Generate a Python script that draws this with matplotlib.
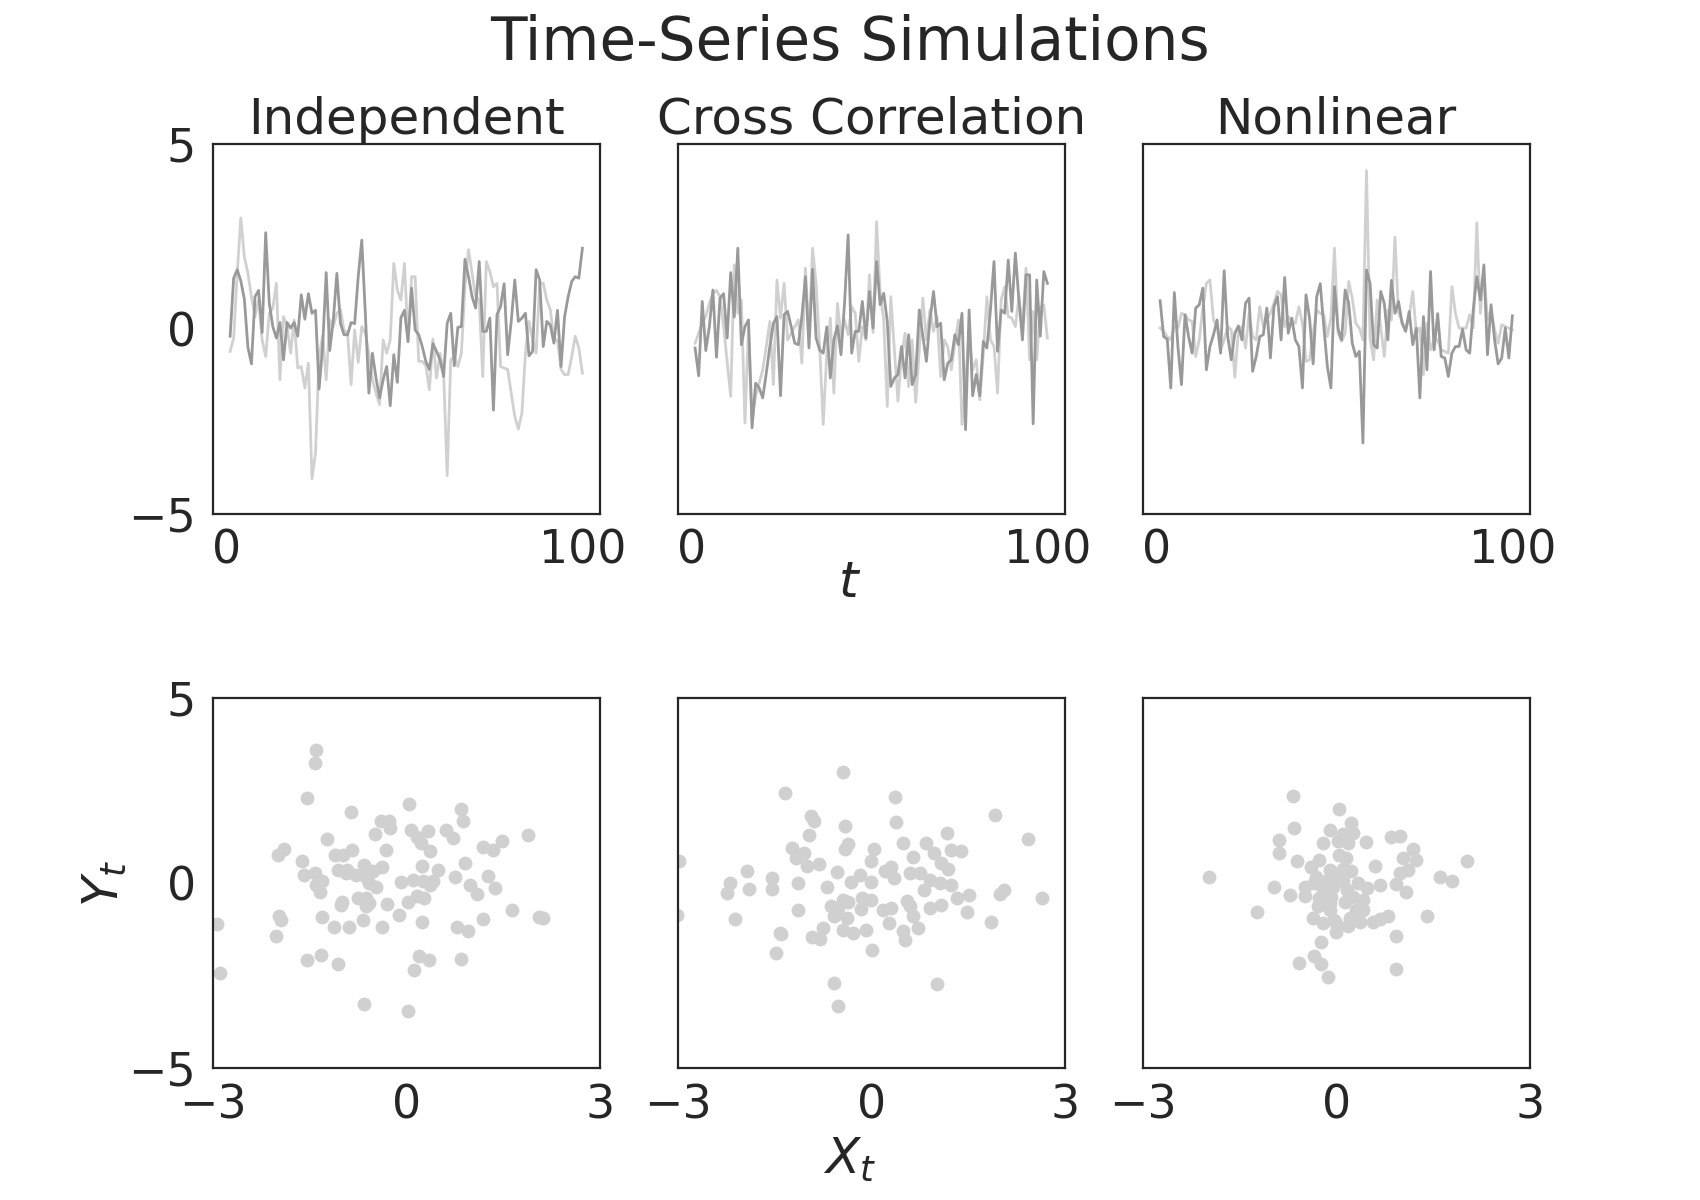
import matplotlib
matplotlib.use("Agg")
import matplotlib.pyplot as plt
import numpy as np

# ---- data ----
panel_titles = ["Independent", "Cross Correlation", "Nonlinear"]
t = np.arange(1, 101)

indep_dark = [
    -0.2, 1.37, 1.6, 1.3, 0.8, -0.5, -0.95, 0.87, 1.04, -0.1,
    2.6, 0.7, 0.06, -0.25, 0.17, -0.84, 0.17, 0.02, 0.17, -0.2,
    0.92, 0.26, 0.95, 0.42, 0.5, -1.63, -0.48, 1.52, -0.59, 0.24,
    1.5, 0.15, -0.16, -0.16, 0.17, 0.14, 1.41, 2.4, 0.42, -1.74,
    -0.66, -1.33, -1.87, -1.38, -1.02, -2.08, -0.7, -1.45, 0.3, 0.5,
    -0.35, 1.1, -0.03, -0.16, -0.48, -0.88, -1.1, -0.4, -0.61, -0.84,
    -1.29, 0.15, 0.42, -1.0, 0.04, 0.06, 1.88, 1.41, 0.87, 0.56,
    1.82, -0.07, -0.07, 0.29, -2.2, 0.38, 0.6, 1.22, -0.7, 0.2,
    1.32, 0.2, 0.29, 0.42, -0.73, -0.61, 1.6, 1.32, -0.48, 0.2,
    0.1, -0.39, 0.5, -1.02, 0.33, 0.87, 1.28, 1.41, 1.37, 2.18,
]
indep_light = [
    -0.61, -0.25, 1.5, 3.0, 1.95, 1.5, 0.87, 0.33, 0.8, -0.3,
    -0.75, 0.42, 0.56, 1.23, -1.38, 0.33, 0.1, -0.66, 0.24, -1.06,
    -1.02, -1.6, -0.93, -4.06, -3.36, -0.75, -0.2, -1.38, 0.24, 0.06,
    0.42, 0.51, -0.03, -0.12, -1.51, -0.03, -0.91, 0.06, -0.12, -0.66,
    -1.38, -1.74, -2.05, -0.3, -0.66, -0.3, 1.77, 1.05, 0.78, 1.77,
    -0.3, 1.41, 1.41, -0.88, -0.88, -1.0, -1.65, -0.28, -1.33, -0.66,
    -1.2, -3.97, -0.84, -0.75, -1.02, -0.66, 1.14, 2.14, 1.5, 0.87,
    0.78, -1.29, 1.82, 1.55, 1.14, 1.23, -1.02, -1.06, -1.1, -1.74,
    -2.37, -2.71, -2.28, -0.66, 0.2, -0.3, -0.66, 1.23, 1.23, 0.78,
    0.51, -0.3, -0.3, -1.1, -1.24, -1.24, -0.75, -0.2, -0.52, -1.2,
]
cross_dark = [
    -0.52, -1.27, 0.74, -0.59, 0.06, 1.05, -0.77, 0.83, 0.95, -0.25,
    1.52, 0.32, 2.18, -0.43, 0.06, 0.24, -2.68, -1.47, -1.6, -1.87,
    -1.2, -0.48, 0.15, 0.33, -1.81, 0.38, 0.47, 0.06, -0.39, -0.43,
    0.33, 1.41, -0.52, 1.61, -0.25, -0.57, -0.66, 0.05, -1.33, -0.3,
    0.08, -0.7, 0.69, 2.54, -0.66, -0.07, -0.07, 0.74, -0.25, 1.01,
    0.02, 1.82, 0.65, 0.96, 0.2, -1.56, -1.33, -1.24, -0.48, -1.33,
    -0.16, -1.51, -1.24, 0.51, -0.2, -0.88, 0.24, 1.01, 0.06, 0.15,
    -1.38, -0.93, -0.84, -0.16, -0.43, 0.42, -2.73, 0.51, -1.81, -1.24,
    -1.81, -0.34, -0.52, 0.51, 1.82, -0.61, 0.51, 0.42, 1.86, 0.47,
    2.05, 0.78, -0.3, 1.46, 1.46, -2.57, 1.32, -0.2, 1.55, 1.23,
]
cross_light = [
    -0.39, -0.12, 0.15, 0.33, 0.69, 0.96, 1.04, 0.87, 0.06, -0.88,
    -1.83, 1.73, 0.42, 0.78, -2.55, 0.02, -2.46, -1.83, -1.47, -1.11,
    -0.48, 0.2, -1.51, 1.32, 0.29, 1.23, -0.3, -0.12, 0.06, 0.24,
    -0.93, 1.64, -0.21, 2.18, 1.23, -0.48, -2.59, -0.66, 0.29, -1.74,
    0.69, -0.21, 0.24, -0.16, 0.6, 0.42, -0.88, 0.06, -0.3, 1.46,
    -0.1, 2.9, 0.96, 0.24, -2.1, 0.87, -0.57, -1.96, -0.75, -0.12,
    -1.56, -0.3, -1.99, -0.57, 0.83, -0.3, 0.51, -0.07, 0.33, -1.29,
    -0.3, -0.48, -1.11, -0.39, 0.24, -2.59, -1.38, -0.21, -1.11, -0.84,
    -1.92, -0.66, 0.87, -0.3, -0.48, -1.74, 0.78, 1.14, 0.33, 0.29,
    0.06, 0.87, 0.06, 1.64, -0.84, 0.47, -0.84, 0.6, 0.65, -0.25,
]
nonlin_dark = [
    0.76, -0.21, -0.28, -1.6, 0.98, -0.48, -1.51, 0.38, -0.21, -0.66,
    0.56, 0.65, 1.1, -1.11, -0.48, -0.16, 0.24, -0.66, 1.57, -0.21,
    -0.84, -0.12, 0.08, -0.3, 0.69, 0.83, -1.15, -0.75, -0.21, -0.16,
    0.56, -0.79, 0.6, 0.87, -0.3, 1.39, -0.12, 0.29, -0.3, -0.48,
    -1.6, 0.92, 0.29, -0.95, 0.87, 1.22, 0.06, -1.02, -1.6, 1.14,
    0.0, -0.3, 1.05, 0.69, -0.39, -0.75, -0.61, -3.09, 1.59, 1.23,
    -0.43, -0.52, 1.01, 0.69, -0.3, 1.31, 0.42, 0.74, 0.15, -0.07,
    0.47, -0.43, 0.02, -1.87, 0.33, -1.11, 1.55, -0.57, 0.41, -0.75,
    -0.79, -1.29, -0.66, -0.48, -0.48, -0.01, -0.57, -0.66, 0.51, 1.41,
    0.78, 1.73, -0.7, 0.65, -0.3, -0.95, -0.79, 0.02, -0.79, 0.35,
]
nonlin_light = [
    0.02, -0.07, -0.21, -0.3, 0.06, 0.02, 0.42, 0.38, 0.24, 0.2,
    -0.75, -0.3, 0.56, 1.23, 1.32, 0.24, 0.06, -0.57, -0.3, 0.06,
    -0.03, -1.31, -0.03, 0.06, -0.52, 0.42, -0.21, -0.3, 0.6, 0.06,
    0.24, 0.42, 0.69, 1.01, 0.92, 0.06, 0.33, 0.2, 0.15, 0.6,
    0.15, -0.88, -0.84, -0.12, 0.51, 0.42, 0.38, -0.21, 0.29, 2.18,
    -0.12, -0.34, -0.12, 1.28, 0.83, 0.15, 0.02, -0.3, 4.28, -0.25,
    -0.84, 0.78, 0.06, -0.75, 0.51, 0.24, 2.48, 0.42, 0.2, -0.03,
    0.33, 1.01, -0.12, 0.02, -1.24, 0.15, -0.57, -0.3, -0.3, -0.57,
    -0.61, -0.66, 1.14, 0.42, 0.02, 0.02, 0.02, 0.38, 0.02, 2.87,
    0.42, 1.52, 0.24, 0.51, -0.03, -0.39, 0.11, 0.06, 0.02, -0.03,
]

indep_x = [
    -1.39, -1.42, -1.53, 0.04, 0.84, -0.85, 0.88, -0.39, -0.27, -0.25,
    -0.48, 0.08, 0.33, 0.62, 0.73, 1.88, -1.22, 0.16, 0.23, 1.48,
    -1.90, -1.99, -0.84, -0.31, 1.19, 1.34, 0.36, -1.10, -0.98, -1.62,
    0.91, 0.25, -0.37, -0.65, -1.06, -0.91, -0.52, 0.49, -1.58, -1.42,
    0.75, 1.27, -0.93, -0.78, -0.62, -1.30, -0.08, 0.10, 0.26, 0.41,
    0.36, -1.40, -0.57, -0.47, 0.99, 1.37, -1.33, 1.09, -0.75, -0.62,
    -0.57, 0.16, 0.28, 0.03, -1.00, -1.01, -0.30, -0.62, -1.97, -1.94,
    -1.31, -0.11, 0.25, -0.67, 1.19, 1.63, 2.05, 2.12, -2.93, -1.12,
    -0.88, -0.38, 0.78, 0.95, -2.01, -1.54, -1.32, -1.06, 0.19, 0.35,
    0.12, 0.84, -2.88, -0.65, 0.03,
]
indep_y = [
    3.61, 3.25, 2.30, 2.15, 2.01, 1.92, 1.67, 1.67, 1.69, 1.49,
    1.34, 1.45, 1.42, 1.43, 1.22, 1.31, 1.19, 1.26, 1.08, 1.15,
    0.92, 0.75, 0.90, 0.90, 0.99, 0.89, 0.86, 0.77, 0.77, 0.59,
    0.54, 0.47, 0.45, 0.48, 0.36, 0.36, 0.32, 0.36, 0.23, 0.27,
    0.16, 0.20, 0.27, 0.23, 0.18, 0.07, 0.02, 0.09, 0.05, 0.07,
    -0.05, -0.05, 0.00, -0.11, -0.05, -0.14, -0.23, -0.29, -0.41, -0.41,
    -0.54, -0.34, -0.41, -0.50, -0.50, -0.59, -0.57, -0.61, -0.90, -0.99,
    -0.92, -0.86, -1.06, -0.99, -0.98, -0.72, -0.92, -0.93, -1.11, -1.19,
    -1.19, -1.19, -1.19, -1.28, -1.43, -2.08, -1.94, -2.19, -1.96, -2.08,
    -2.35, -2.05, -2.44, -3.27, -3.46,
]
cross_x = [
    -0.44, -1.34, 0.36, 1.92, -0.94, -0.89, 0.39, -0.40, 2.42, -0.97,
    1.17, 0.49, 0.85, -0.36, -0.41, 0.04, -1.23, -1.14, -1.04, -1.17,
    0.97, 1.24, 1.39, 0.65, 0.00, -0.99, -0.81, 1.08, -2.98, 0.31,
    -1.93, -0.53, 0.21, 0.60, 0.75, 1.19, 0.35, -2.19, -1.53, -0.18,
    -0.31, 0.00, -1.14, 0.91, 1.06, 1.24, -2.23, -1.90, -1.53, -0.69,
    0.82, 1.32, 1.51, 2.06, 1.99, 2.64, -0.15, 0.00, -0.44, -0.36,
    0.56, -0.62, -0.52, -0.16, 0.18, 0.30, 0.60, 0.91, 1.08, -1.13,
    1.49, -3.01, -2.11, 0.65, -0.57, -0.37, 0.27, -1.42, -1.40, -0.91,
    -0.74, -0.79, -0.43, -0.28, -0.08, 0.49, 0.73, 0.52, -1.48, 0.01,
    1.85, -0.58, 1.02, -0.51,
]
cross_y = [
    3.01, 2.44, 2.33, 1.85, 1.81, 1.67, 1.65, 1.54, 1.20, 1.30,
    1.37, 1.08, 1.08, 1.07, 0.92, 0.92, 0.95, 0.77, 0.81, 0.68,
    0.81, 0.89, 0.87, 0.72, 0.61, 0.47, 0.51, 0.54, 0.59, 0.43,
    0.33, 0.30, 0.32, 0.27, 0.27, 0.38, 0.14, 0.00, 0.14, 0.22,
    0.03, 0.03, 0.00, 0.09, 0.00, -0.05, -0.27, -0.16, -0.15, -0.11,
    -0.18, -0.41, -0.32, -0.18, -0.29, -0.41, -0.41, -0.45, -0.45, -0.51,
    -0.47, -0.63, -0.68, -0.70, -0.72, -0.68, -0.63, -0.68, -0.59, -0.72,
    -0.77, -0.86, -0.98, -0.89, -0.89, -0.95, -1.08, -1.34, -1.37, -1.45,
    -1.21, -1.52, -1.26, -1.36, -1.26, -1.28, -1.22, -1.55, -1.90, -1.81,
    -1.06, -2.71, -2.73, -3.32,
]
nonlin_x = [
    -0.67, 0.05, 0.23, -0.66, -0.10, 0.10, 0.26, 0.84, 0.98, -0.89,
    -0.21, 0.03, 0.18, 0.46, -0.88, -0.61, -0.27, 0.05, 0.15, 0.60,
    1.19, 1.04, 1.24, 2.02, -0.39, -0.10, 0.10, 0.23, 0.98, 1.11,
    1.61, 1.79, -1.97, -0.96, -0.71, -0.49, -0.34, -0.21, -0.05, 0.10,
    0.34, 0.47, 0.68, 0.93, 1.08, -0.49, -0.26, -0.08, 0.13, 0.41,
    -0.28, -0.10, 0.31, 0.41, -1.22, -0.36, -0.21, 0.00, 0.18, 0.36,
    0.57, 0.67, 0.80, 1.41, 0.00, 0.92, -0.24, -0.34, -0.23, -0.57,
    -0.13, 0.92, -0.03, 0.21, -0.31, -0.16, 0.00, 0.16, 0.26, -0.10,
]
nonlin_y = [
    2.37, 2.01, 1.63, 1.49, 1.43, 1.34, 1.36, 1.26, 1.28, 1.17,
    1.08, 1.13, 1.10, 1.11, 0.81, 0.59, 0.63, 0.77, 0.68, 0.47,
    0.92, 0.68, 0.63, 0.59, 0.45, 0.36, 0.38, 0.32, 0.27, 0.36,
    0.16, 0.05, 0.16, -0.11, -0.32, -0.09, 0.00, -0.18, -0.09, 0.05,
    0.00, -0.14, -0.06, -0.02, -0.24, -0.34, -0.41, -0.36, -0.50, -0.45,
    -0.63, -0.72, -0.72, -0.72, -0.79, -0.95, -1.08, -1.08, -1.17, -1.04,
    -1.04, -0.98, -0.88, -0.89, -1.31, -1.42, -1.60, -1.96, -2.19, -2.17,
    -2.55, -2.33, -0.99, -0.95, 0.18, 0.05, 0.18, -0.18, -0.36, -0.54,
]

line_series = [(indep_light, indep_dark), (cross_light, cross_dark),
               (nonlin_light, nonlin_dark)]
scatter_series = [(indep_x, indep_y), (cross_x, cross_y), (nonlin_x, nonlin_y)]

# ---- style ----
text_color = "#262626"
plt.rcParams.update({
    "font.family": "DejaVu Sans",
    "text.color": text_color,
    "axes.labelcolor": text_color,
    "xtick.color": text_color,
    "ytick.color": text_color,
    "axes.edgecolor": text_color,
    "axes.linewidth": 1.6,
    "xtick.major.size": 0,
    "ytick.major.size": 0,
    "xtick.major.pad": 11,
    "ytick.major.pad": 12,
    "xtick.labelsize": 33,
    "ytick.labelsize": 33,
    "axes.titlesize": 36,
    "axes.labelsize": 36,
})

light = "#d0d0d0"
dark = "#999999"

fig, axes = plt.subplots(2, 3, figsize=(17, 12), dpi=100)
fig.subplots_adjust(left=0.125, right=0.9, bottom=0.11, top=0.88,
                    wspace=0.2, hspace=0.5)

for col in range(3):
    ax = axes[0, col]
    lt, dk = line_series[col]
    ax.plot(t, lt, color=light, lw=2.0)
    ax.plot(t, dk, color=dark, lw=2.0)
    ax.set_ylim(-5, 5)
    ax.set_xticks([0, 100])
    ax.set_yticks([-5, 0, 5])
    ax.set_title(panel_titles[col])

    ax = axes[1, col]
    xs, ys = scatter_series[col]
    ax.scatter(xs, ys, s=100, color=light, linewidths=0)
    ax.set_xlim(-3, 3)
    ax.set_ylim(-5, 5)
    ax.set_xticks([-3, 0, 3])
    ax.set_yticks([-5, 0, 5])

    if col > 0:
        axes[0, col].set_yticklabels([])
        axes[1, col].set_yticklabels([])

# axis labels are placed relative to the whole figure
fig.text(0.5, 0.514, "$t$", fontsize=36, ha="center", va="center")
fig.text(0.5, 0.033, "$X_t$", fontsize=36, ha="center", va="center")
fig.text(0.062, 0.264, "$Y_t$", fontsize=36, ha="center", va="center",
         rotation=90)

fig.suptitle("Time-Series Simulations", fontsize=43, y=0.988)

fig.savefig("out.png", dpi=100)
